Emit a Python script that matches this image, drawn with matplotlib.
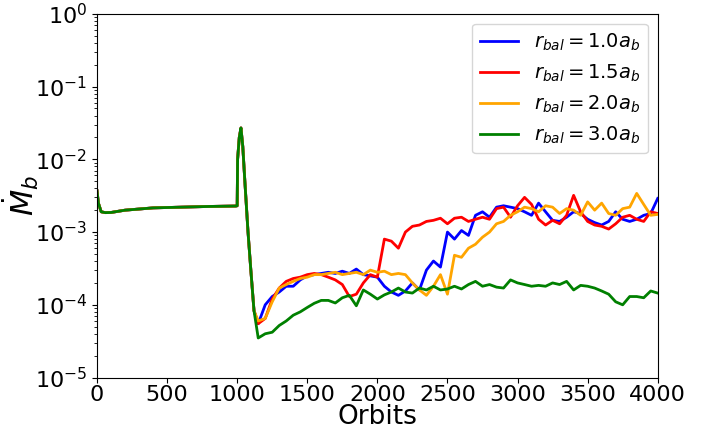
import numpy as np
import matplotlib
matplotlib.use('Agg')
import matplotlib.pyplot as plt

# shared early phase (all runs identical), units of 1e-4
orbits_early = [0, 10, 30, 60, 100, 200, 400, 600, 800, 990, 1000, 1003, 1015, 1027,
                1040, 1055, 1077, 1098, 1120]
mdot_early = [37, 25, 19, 18.5, 18.6, 20, 21.5, 22, 22.5, 22.8, 23, 100, 200, 270,
              150, 49, 10.2, 2.9, 0.83]

orbits_late = np.arange(1150, 4001, 50)

mdot_10 = [0.55, 1.0, 1.3, 1.5, 1.8, 1.8, 2.2, 2.5, 2.6, 2.7,
           2.8, 2.7, 2.9, 2.7, 3.1, 2.6, 2.5, 2.4, 1.8, 1.5,
           1.35, 1.55, 2.0, 1.6, 3.0, 4.0, 3.3, 10, 8, 10.5,
           9, 17, 19, 16, 22, 23, 22, 21, 19, 17,
           25, 19, 14.5, 14, 16, 19, 18, 15, 13.5, 12.5,
           14, 19, 15, 14, 15, 17, 18, 29]
mdot_15 = [0.55, 0.65, 1.2, 1.7, 2.1, 2.3, 2.4, 2.6, 2.7, 2.6,
           2.4, 2.2, 1.9, 1.3, 1.4, 2.0, 2.6, 2.4, 8.0, 7.5,
           6.0, 10, 12, 12.5, 14, 14.5, 15.5, 13, 15.5, 16,
           14, 15, 16, 15, 21, 22, 16, 23, 30, 24,
           15, 12.5, 14.5, 13, 17, 32, 19, 14, 12.5, 12,
           11, 13, 16, 17, 15, 14, 19, 18]
mdot_20 = [0.6, 0.65, 1.1, 1.7, 1.9, 2.1, 2.3, 2.4, 2.6, 2.6,
           2.7, 2.8, 2.6, 2.7, 2.8, 2.6, 3.0, 2.8, 2.9, 2.6,
           2.7, 2.6, 2.0, 1.6, 1.35, 1.8, 2.6, 1.4, 4.8, 4.5,
           6.0, 6.8, 8.5, 10, 13, 14, 17, 19, 22, 21,
           19, 23, 22, 18, 21, 20, 17, 26, 20, 25,
           18, 17, 21, 22, 34, 24, 17, 17.5]
mdot_30 = [0.35, 0.4, 0.42, 0.52, 0.6, 0.72, 0.8, 0.92, 1.05, 1.15,
           1.15, 1.06, 1.25, 1.35, 0.97, 1.6, 1.4, 1.2, 1.37, 1.5,
           1.7, 1.5, 1.45, 1.7, 1.6, 1.8, 1.6, 1.65, 1.8, 1.65,
           1.9, 2.1, 1.8, 1.9, 1.75, 1.7, 2.2, 2.0, 1.9, 1.8,
           1.85, 1.8, 2.0, 1.9, 2.1, 1.6, 1.85, 1.8, 1.7, 1.55,
           1.4, 1.1, 1.0, 1.3, 1.3, 1.25, 1.55, 1.45]

runs = [('1.0', mdot_10, 'blue'), ('1.5', mdot_15, 'red'),
        ('2.0', mdot_20, 'orange'), ('3.0', mdot_30, 'green')]

fig = plt.figure(figsize=(7.08, 4.32), dpi=100)
ax = fig.add_axes([0.137, 0.126, 0.792, 0.842])

for r, late, c in runs:
    x = np.concatenate([orbits_early, orbits_late])
    y = np.concatenate([mdot_early, late]) * 1e-4
    ax.plot(x, y, color=c, lw=2, label=r'$r_{bal}=%sa_b$' % r)

ax.set_yscale('log')
ax.set_ylim(1e-5, 1)
ax.set_xlim(0, 4000)
ax.set_xticks(np.arange(0, 4001, 500))
ax.tick_params(labelsize=16)
ax.tick_params(axis='x', pad=2)
ax.set_xlabel('Orbits', fontsize=19)
ax.xaxis.set_label_coords(0.5, -0.072)
ax.set_ylabel(r'$\dot{M}_b$', fontsize=22)
ax.yaxis.set_label_coords(-0.1, 0.5)
ax.legend(loc='upper right', fontsize=14)

plt.savefig('out.png', dpi=100)
